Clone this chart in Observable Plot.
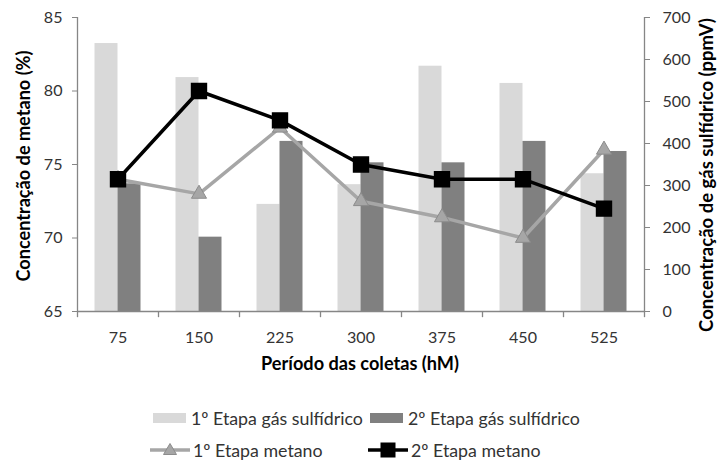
<!DOCTYPE html>
<html><head><meta charset="utf-8">
<script src="https://cdn.jsdelivr.net/npm/d3@7"></script>
<script src="https://cdn.jsdelivr.net/npm/@observablehq/plot@0.6"></script>
<style>
body{margin:0;background:#fff;font-family:Lato,sans-serif;}
#wrap{position:relative;width:719px;height:461px;overflow:hidden;}
#wrap svg.plot{position:absolute;left:0;top:0;}
.leg{position:absolute;color:#333;display:flex;align-items:center;white-space:nowrap;height:20px;line-height:20px;}
.leg svg{margin-right:3px;}
.ytitle{position:absolute;white-space:nowrap;font-weight:bold;color:#000;transform:translate(-50%,-50%) rotate(-90deg);line-height:1;}
</style></head><body><div id="wrap"></div>
<script>
const categories = ["75","150","225","300","375","450","525"];
const h2sEtapa1 = [638,557,255,302,584,543,328];
const h2sEtapa2 = [304,177,405,354,354,405,381];
const ch4Etapa1 = [74,73,77.5,72.5,71.4,70,76];
const ch4Etapa2 = [74,80,78,75,74,74,72];
const leftTicks = [65,70,75,80,85];
const rightTicks = [0,100,200,300,400,500,600,700];
const seriesNames = ["1º Etapa gás sulfídrico","2º Etapa gás sulfídrico","1º Etapa metano","2º Etapa metano"];
const leftLabel = "Concentração de metano (%)";
const rightLabel = "Concentração de gás sulfídrico (ppmV)";
const xLabel = "Período das coletas (hM)";

const FONT = "Lato";
const ctx = document.createElement("canvas").getContext("2d");
function fitSize(text, weight, target) {
  ctx.font = `${weight} 100px ${FONT}`;
  return 100 * target / ctx.measureText(text).width;
}
const tickSize = Math.min(17, fitSize("150", "normal", 28));
const xTitleSize = fitSize(xLabel, "bold", 198);
const leftTitleSize = fitSize(leftLabel, "bold", 231);
const rightTitleSize = fitSize(rightLabel, "bold", 314);
const legendSize = fitSize(seriesNames[0], "normal", 172);

const leftMin = 65, leftMax = 85, rightMax = 700;
const toLeft = v => leftMin + v * (leftMax - leftMin) / rightMax;
const toRight = v => Math.round((v - leftMin) * rightMax / (leftMax - leftMin));

const W = 719, H = 380, mL = 77, mR = 75, mT = 17, mB = H - 311;
const bw = (W - mL - mR) / categories.length;
const barW = 23;
const axisGray = "#868686";
const cLight = "#d9d9d9", cDark = "#808080", cGrayLine = "#a6a6a6";

const rows = categories.map((c, i) => ({c, a: h2sEtapa1[i], b: h2sEtapa2[i], m1: ch4Etapa1[i], m2: ch4Etapa2[i]}));

const plot = Plot.plot({
  width: W, height: H, marginLeft: mL, marginRight: mR, marginTop: mT, marginBottom: mB,
  style: {fontFamily: FONT + ", sans-serif", fontSize: tickSize + "px", color: "#333", background: "transparent"},
  x: {type: "band", domain: categories, padding: 0, axis: null},
  y: {domain: [leftMin, leftMax], axis: null},
  marks: [
    Plot.barY(rows, {x: "c", y1: leftMin, y2: d => toLeft(d.a), fill: cLight, insetLeft: bw/2 - barW, insetRight: bw/2}),
    Plot.barY(rows, {x: "c", y1: leftMin, y2: d => toLeft(d.b), fill: cDark, insetLeft: bw/2, insetRight: bw/2 - barW}),
    Plot.ruleY([leftMin], {stroke: axisGray, strokeWidth: 1.3}),
    Plot.ruleX([categories[0]], {x: d => d, dx: -bw/2, stroke: axisGray, strokeWidth: 1.3}),
    Plot.ruleX([categories[categories.length-1]], {x: d => d, dx: bw/2, stroke: axisGray, strokeWidth: 1.3}),
    Plot.ruleX(categories, {x: d => d, dx: -bw/2, y1: leftMin, y2: leftMin - 0.42, stroke: axisGray, strokeWidth: 1.3}),
    Plot.ruleX([categories[categories.length-1]], {x: d => d, dx: bw/2, y1: leftMin, y2: leftMin - 0.42, stroke: axisGray, strokeWidth: 1.3}),
    Plot.axisX({tickSize: 0, tickPadding: 20, label: null, fill: "#333"}),
    Plot.axisY(leftTicks, {anchor: "left", tickSize: 5, tickPadding: 10, label: null, stroke: axisGray, fill: "#333"}),
    Plot.axisY(rightTicks.map(toLeft), {anchor: "right", tickSize: 5, tickPadding: 13, label: null, stroke: axisGray, fill: "#333", tickFormat: toRight}),
    Plot.line(rows, {x: "c", y: "m1", stroke: cGrayLine, strokeWidth: 3.5}),
    Plot.dot(rows, {x: "c", y: "m1", symbol: "triangle", r: 5.6, fill: cGrayLine, stroke: "#8c8c8c", strokeWidth: 1}),
    Plot.line(rows, {x: "c", y: "m2", stroke: "#000", strokeWidth: 3.5}),
    Plot.dot(rows, {x: "c", y: "m2", symbol: "square", r: 8.4, fill: "#000", stroke: "#000"}),
    Plot.text([xLabel], {frameAnchor: "bottom", lineAnchor: "middle", dx: -1, dy: 53, fontWeight: "bold", fontSize: xTitleSize, fill: "#000"})
  ]
});
plot.classList.add("plot");
const wrap = document.getElementById("wrap");
wrap.appendChild(plot);

function title(text, cx, cy, size) {
  const d = document.createElement("div");
  d.className = "ytitle";
  d.style.left = cx + "px";
  d.style.top = cy + "px";
  d.style.fontSize = size + "px";
  d.textContent = text;
  wrap.appendChild(d);
}
title(leftLabel, 23, 165.5, leftTitleSize);
title(rightLabel, 706, 175, rightTitleSize);

function legendItem(name, swatch, left, top) {
  const d = document.createElement("div");
  d.className = "leg";
  d.style.left = left + "px";
  d.style.top = top + "px";
  d.style.fontSize = legendSize + "px";
  d.innerHTML = swatch + "<span>" + name + "</span>";
  wrap.appendChild(d);
}
const rect = c => `<svg width="36" height="20"><rect x="1" y="5" width="33" height="10" fill="${c}"/></svg>`;
const tri = `<svg width="40" height="20"><line x1="0" y1="10" x2="40" y2="10" stroke="${cGrayLine}" stroke-width="3.5"/><path d="M20,3.5 L26.5,14.5 L13.5,14.5 Z" fill="${cGrayLine}" stroke="#8c8c8c"/></svg>`;
const sq = `<svg width="40" height="20"><line x1="0" y1="10" x2="40" y2="10" stroke="#000" stroke-width="3.5"/><rect x="12.5" y="2.5" width="15" height="15" fill="#000"/></svg>`;
legendItem(seriesNames[0], rect(cLight), 152, 408);
legendItem(seriesNames[1], rect(cDark), 369, 408);
legendItem(seriesNames[2], tri, 150, 440);
legendItem(seriesNames[3], sq, 368, 440);
</script></body></html>
